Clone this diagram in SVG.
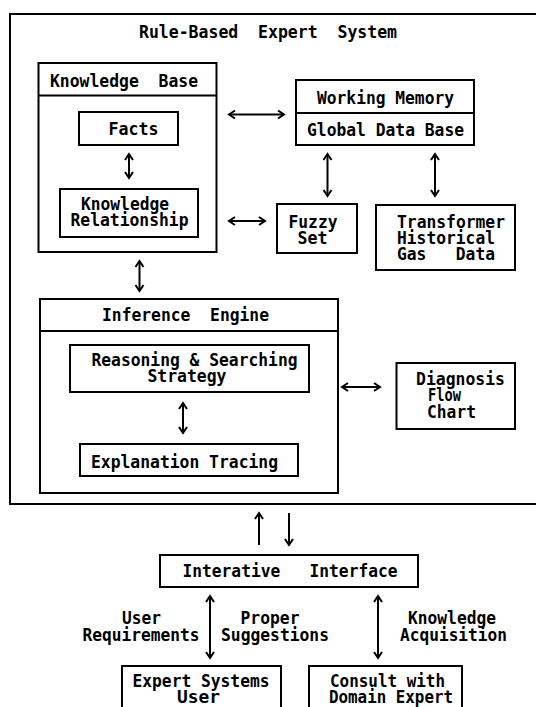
<svg xmlns="http://www.w3.org/2000/svg" width="536" height="707" viewBox="0 0 536 707">
<style>
  .box { fill: none; stroke: #000; stroke-width: 2; }
  .ln { fill: none; stroke: #000; stroke-width: 2; }
  text { font-family: "DejaVu Sans Mono", "Liberation Mono", monospace; font-weight: bold; font-size: 18px; fill: #000; white-space: pre; }
  .arr { fill: none; stroke: #000; stroke-width: 2; marker-end: url(#ah); marker-start: url(#ah); }
  .up { fill: none; stroke: #000; stroke-width: 2; marker-end: url(#ah); }
</style>
<defs>
  <marker id="ah" markerUnits="userSpaceOnUse" markerWidth="12" markerHeight="12" refX="0" refY="0" viewBox="-8 -6 10 12" orient="auto-start-reverse">
    <path d="M-6,-4 L0,0 L-6,4" fill="none" stroke="#000" stroke-width="2"/>
  </marker>
</defs>
<rect width="536" height="707" fill="#fff"/>

<g id="system">
  <path class="box" d="M537,14 H10 V504 H537"/>
  <text x="139" y="38" textLength="258" lengthAdjust="spacingAndGlyphs" xml:space="preserve">Rule-Based  Expert  System</text>
</g>

<g id="knowledge-base">
  <rect class="box" x="38.5" y="63" width="178" height="189"/>
  <line class="ln" x1="38.5" y1="95.5" x2="216.5" y2="95.5"/>
  <text x="50" y="87" textLength="148" lengthAdjust="spacingAndGlyphs" xml:space="preserve">Knowledge  Base</text>
</g>

<g id="facts">
  <rect class="box" x="79" y="112" width="99" height="33"/>
  <text x="108.5" y="135" textLength="50" lengthAdjust="spacingAndGlyphs">Facts</text>
</g>

<g id="knowledge-relationship">
  <rect class="box" x="60" y="189" width="138" height="48"/>
  <text x="81" y="210" textLength="88" lengthAdjust="spacingAndGlyphs">Knowledge</text>
  <text x="70.5" y="226" textLength="118" lengthAdjust="spacingAndGlyphs">Relationship</text>
</g>

<g id="working-memory">
  <rect class="box" x="296" y="80" width="178" height="65"/>
  <line class="ln" x1="296" y1="113" x2="474" y2="113"/>
  <text x="317" y="104" textLength="137" lengthAdjust="spacingAndGlyphs">Working Memory</text>
  <text x="307" y="136" textLength="157" lengthAdjust="spacingAndGlyphs">Global Data Base</text>
</g>

<g id="fuzzy-set">
  <rect class="box" x="277" y="204" width="80" height="49"/>
  <text x="288.5" y="228" textLength="49" lengthAdjust="spacingAndGlyphs">Fuzzy</text>
  <text x="297.5" y="244" textLength="30" lengthAdjust="spacingAndGlyphs">Set</text>
</g>

<g id="transformer-data">
  <rect class="box" x="376" y="205" width="139" height="65"/>
  <text x="397" y="228" textLength="108" lengthAdjust="spacingAndGlyphs">Transformer</text>
  <text x="397" y="244" textLength="98" lengthAdjust="spacingAndGlyphs">Historical</text>
  <text x="397" y="260" textLength="98" lengthAdjust="spacingAndGlyphs" xml:space="preserve">Gas   Data</text>
</g>

<g id="inference-engine">
  <rect class="box" x="40" y="299" width="298" height="194"/>
  <line class="ln" x1="40" y1="331" x2="338" y2="331"/>
  <text x="102" y="321" textLength="167" lengthAdjust="spacingAndGlyphs" xml:space="preserve">Inference  Engine</text>
</g>

<g id="reasoning">
  <rect class="box" x="70" y="345" width="239" height="47"/>
  <text x="91.5" y="366" textLength="206" lengthAdjust="spacingAndGlyphs">Reasoning &amp; Searching</text>
  <text x="147.5" y="382" textLength="79" lengthAdjust="spacingAndGlyphs">Strategy</text>
</g>

<g id="explanation">
  <rect class="box" x="80" y="444" width="218" height="32"/>
  <text x="91" y="468" textLength="187" lengthAdjust="spacingAndGlyphs">Explanation Tracing</text>
</g>

<g id="diagnosis">
  <rect class="box" x="396.5" y="363" width="118.5" height="66"/>
  <text x="416" y="385" textLength="89" lengthAdjust="spacingAndGlyphs">Diagnosis</text>
  <text x="428" y="401" textLength="33" lengthAdjust="spacingAndGlyphs">Flow</text>
  <text x="427" y="418" textLength="49" lengthAdjust="spacingAndGlyphs">Chart</text>
</g>

<g id="interface">
  <rect class="box" x="160" y="555" width="258" height="32"/>
  <text x="182.5" y="577" textLength="215" lengthAdjust="spacingAndGlyphs" xml:space="preserve">Interative   Interface</text>
</g>

<g id="expert-user">
  <path class="box" d="M122,715 V666 H281 V715"/>
  <text x="132.5" y="687" textLength="137" lengthAdjust="spacingAndGlyphs">Expert Systems</text>
  <text x="177" y="703" textLength="43" lengthAdjust="spacingAndGlyphs">User</text>
</g>

<g id="domain-expert">
  <path class="box" d="M309,715 V666 H462 V715"/>
  <text x="330" y="687" textLength="115" lengthAdjust="spacingAndGlyphs">Consult with</text>
  <text x="329" y="703" textLength="124" lengthAdjust="spacingAndGlyphs">Domain Expert</text>
</g>

<g id="connectors">
  <line class="arr" x1="229" y1="114.5" x2="284" y2="114.5"/>
  <line class="arr" x1="129" y1="154" x2="129" y2="178"/>
  <line class="arr" x1="327.5" y1="154" x2="327.5" y2="196"/>
  <line class="arr" x1="435" y1="154" x2="435" y2="196"/>
  <line class="arr" x1="229" y1="221" x2="265" y2="221"/>
  <line class="arr" x1="139.5" y1="261" x2="139.5" y2="291"/>
  <line class="arr" x1="183" y1="403" x2="183" y2="433"/>
  <line class="arr" x1="342" y1="387" x2="380" y2="387"/>
  <line class="up" x1="259" y1="545" x2="259" y2="513"/>
  <line class="up" x1="289" y1="513" x2="289" y2="545"/>
  <line class="arr" x1="210" y1="596" x2="210" y2="658"/>
  <line class="arr" x1="378" y1="596" x2="378" y2="658"/>
  <text x="122" y="624" textLength="39" lengthAdjust="spacingAndGlyphs">User</text>
  <text x="82.5" y="641" textLength="117" lengthAdjust="spacingAndGlyphs">Requirements</text>
  <text x="240.5" y="624" textLength="59" lengthAdjust="spacingAndGlyphs">Proper</text>
  <text x="221" y="641" textLength="108" lengthAdjust="spacingAndGlyphs">Suggestions</text>
  <text x="408" y="624" textLength="88" lengthAdjust="spacingAndGlyphs">Knowledge</text>
  <text x="400" y="641" textLength="107" lengthAdjust="spacingAndGlyphs">Acquisition</text>
</g>
</svg>
